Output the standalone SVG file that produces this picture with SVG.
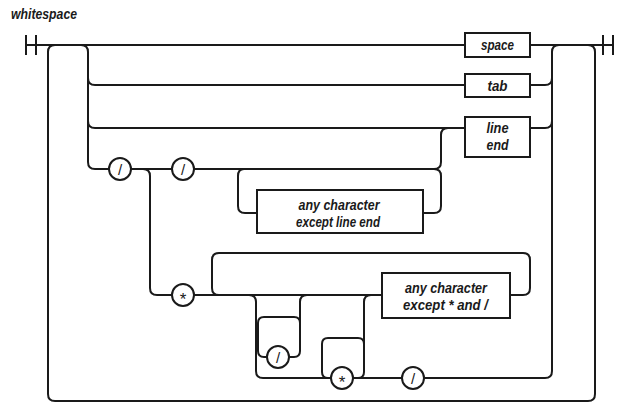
<svg xmlns="http://www.w3.org/2000/svg" width="626" height="411" viewBox="0 0 626 411">
<style>
.ln{fill:none;stroke:#1a1a1a;stroke-width:2}
.bx{fill:#fff;stroke:#1a1a1a;stroke-width:2}
.t{font-family:"Liberation Sans",Arial,sans-serif;font-weight:bold;font-style:italic;font-size:15px;fill:#1a1a1a;text-anchor:middle}
.c{font-family:"Liberation Sans",Arial,sans-serif;font-size:15px;fill:#1a1a1a;text-anchor:middle}
.s{font-family:"Liberation Sans",Arial,sans-serif;font-size:17px;fill:#1a1a1a;text-anchor:middle}
</style>
<rect width="626" height="411" fill="#fff"/>
<text x="11" y="19" class="t" style="text-anchor:start;font-size:14px" textLength="66" lengthAdjust="spacingAndGlyphs">whitespace</text>
<g id="connectors" class="ln">
<path d="M26 35V55M36 35V55M603 35V55M613 35V55"/>
<path d="M26 45H465M530 45H613"/>
<path d="M55 45Q48 45 48 52V394Q48 401 55 401H588Q595 401 595 394V52Q595 45 588 45"/>
<path d="M81 45Q88 45 88 52V78Q88 85 95 85H465"/>
<path d="M88 78V121Q88 128 95 128H465"/>
<path d="M88 121V162Q88 169 95 169H109"/>
<path d="M530 85H545Q552 85 552 78M530 128H545Q552 128 552 121"/>
<path d="M559 45Q552 45 552 52V371Q552 378 545 378H424"/>
<path d="M131 169H172M194 169H434Q441 169 441 162V135Q441 128 448 128"/>
<path d="M244 169Q238 169 238 176V206Q238 213 245 213H257M423 213H434Q441 213 441 206V176Q441 169 434 169"/>
<path d="M143 169Q150 169 150 176V288Q150 295 157 295H172M194 295H382"/>
<path d="M219 295Q212 295 212 288V260Q212 253 219 253H523Q530 253 530 260V288Q530 295 523 295H510"/>
<path d="M249 295Q256 295 256 302V371Q256 378 263 378H331"/>
<path d="M307 295Q300 295 300 302V351Q300 357 294 357H289M267 357H264Q258 357 258 351V323Q258 317 264 317H294Q300 317 300 323"/>
<path d="M371 295Q364 295 364 302V372Q364 378 358 378H353M331 378H328Q322 378 322 372V344Q322 338 328 338H358Q364 338 364 344"/>
<path d="M353 378H402"/>
</g>
<g id="n-space"><rect class="bx" x="465" y="33" width="65" height="24"/><text class="t" x="497.5" y="50" textLength="33" lengthAdjust="spacingAndGlyphs">space</text></g>
<g id="n-tab"><rect class="bx" x="465" y="74" width="65" height="23"/><text class="t" x="497.5" y="90.5" textLength="20" lengthAdjust="spacingAndGlyphs">tab</text></g>
<g id="n-lineend"><rect class="bx" x="465" y="117" width="65" height="40"/><text class="t" x="497.5" y="133" textLength="22" lengthAdjust="spacingAndGlyphs">line</text><text class="t" x="497.5" y="150" textLength="22" lengthAdjust="spacingAndGlyphs">end</text></g>
<g id="n-anyline"><rect class="bx" x="257" y="190" width="166" height="43"/><text class="t" x="339" y="210" textLength="81" lengthAdjust="spacingAndGlyphs">any character</text><text class="t" x="338" y="227" textLength="84" lengthAdjust="spacingAndGlyphs">except line end</text></g>
<g id="n-anystar"><rect class="bx" x="382" y="273" width="128" height="45"/><text class="t" x="446" y="293" textLength="82" lengthAdjust="spacingAndGlyphs">any character</text><text class="t" x="445.5" y="310" textLength="85" lengthAdjust="spacingAndGlyphs">except * and /</text></g>
<g id="c1"><circle class="bx" cx="120" cy="169" r="11"/><text class="c" x="120" y="174.5">/</text></g>
<g id="c2"><circle class="bx" cx="183" cy="169" r="11"/><text class="c" x="183" y="174.5">/</text></g>
<g id="c3"><circle class="bx" cx="183" cy="295" r="11"/><text class="s" x="183" y="305">*</text></g>
<g id="c4"><circle class="bx" cx="278" cy="357" r="11"/><text class="c" x="278" y="362.5">/</text></g>
<g id="c5"><circle class="bx" cx="342" cy="378" r="11"/><text class="s" x="342" y="388">*</text></g>
<g id="c6"><circle class="bx" cx="413" cy="378" r="11"/><text class="c" x="413" y="383.5">/</text></g>
</svg>
